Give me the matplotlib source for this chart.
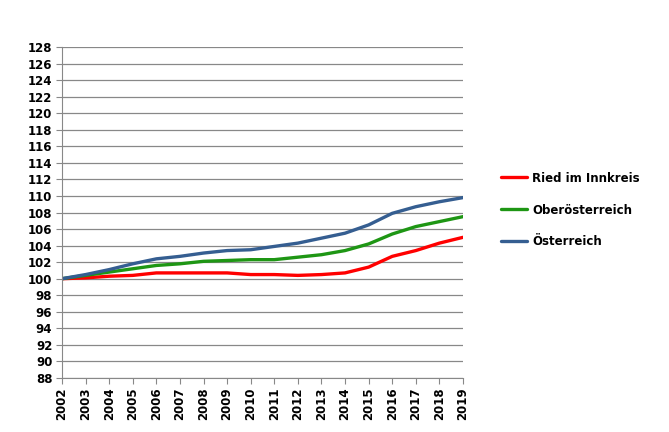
import matplotlib
matplotlib.use("Agg")
import matplotlib.pyplot as plt

# --- data ---
years = list(range(2002, 2020))
ried = [100.0, 100.1, 100.3, 100.4, 100.7, 100.7, 100.7, 100.7, 100.5,
        100.5, 100.4, 100.5, 100.7, 101.4, 102.7, 103.4, 104.3, 105.0]
ooe = [100.0, 100.4, 100.8, 101.2, 101.6, 101.8, 102.1, 102.2, 102.3,
       102.3, 102.6, 102.9, 103.4, 104.2, 105.4, 106.3, 106.9, 107.5]
oesterreich = [100.0, 100.5, 101.1, 101.8, 102.4, 102.7, 103.1, 103.4, 103.5,
               103.9, 104.3, 104.9, 105.5, 106.5, 107.9, 108.7, 109.3, 109.8]

series_names = ["Ried im Innkreis", "Oberösterreich", "Österreich"]
series_colors = ["#ff0000", "#1e9614", "#355e91"]
y_ticks = list(range(88, 129, 2))

plt.rcParams['font.family'] = ['DejaVu Sans']

fig = plt.figure(figsize=(6.69, 4.32), dpi=100)
ax = fig.add_axes([62 / 669, 54 / 432, 401 / 669, 331 / 432])

for vals, name, col in zip([ried, ooe, oesterreich], series_names, series_colors):
    ax.plot(years, vals, color=col, lw=2.4, label=name, solid_capstyle='round')

ax.set_xlim(2002, 2019)
ax.set_ylim(88, 128)
ax.set_xticks(years)
ax.set_xticklabels([str(y) for y in years], rotation=90, fontsize=8.5, fontweight='bold')
ax.set_yticks(y_ticks)
ax.set_yticklabels([str(v) for v in y_ticks], fontsize=8.5, fontweight='bold')
ax.yaxis.grid(True, color='#888888', lw=0.9)
ax.set_axisbelow(True)

for side in ['top', 'right']:
    ax.spines[side].set_visible(False)
for side in ['left', 'bottom']:
    ax.spines[side].set_color('#888888')
ax.tick_params(axis='both', direction='out', length=4, color='#888888', pad=3)

leg = fig.legend(loc='upper left', bbox_to_anchor=(490 / 669, 1 - 161 / 432),
                 frameon=False, handlelength=2.2, handletextpad=0.5, labelspacing=1.6,
                 prop={'size': 8.5, 'weight': 'bold'})

fig.savefig("out.png", dpi=100)
